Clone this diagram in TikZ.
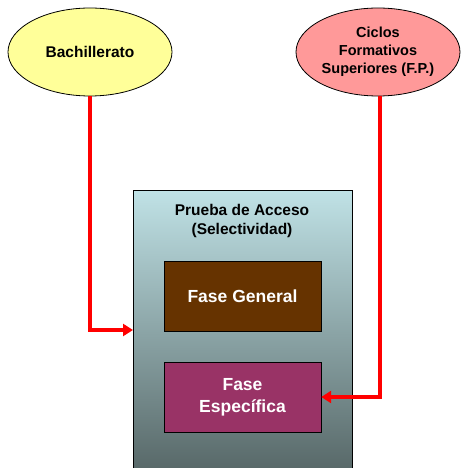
\documentclass[tikz,border=0pt]{standalone}
\usepackage{fontspec}
\setmainfont{Liberation Sans}
\usetikzlibrary{shapes.geometric,arrows.meta}
\definecolor{cajaarriba}{RGB}{192,226,230}
\definecolor{cajaabajo}{RGB}{84,100,100}
\begin{document}
\begin{tikzpicture}[
    x=1pt,y=-1pt,
    origen/.style={ellipse,draw,thick,minimum width=164pt,minimum height=88pt,
      inner sep=0pt,align=center,font=\bfseries\fontsize{15.5}{18.5}\selectfont},
    fase/.style={draw,minimum width=157pt,minimum height=70pt,align=center,
      text=white,font=\bfseries\fontsize{17.5}{22}\selectfont},
    flecha/.style={red,line width=3.5pt,-{Triangle[length=10pt,width=12pt]}}
]
\useasboundingbox (0,0) rectangle (461,468);
\clip (0,0) rectangle (461,468);

% prueba de acceso
\shade[top color=cajaarriba,bottom color=cajaabajo,draw,thick]
  (133,190) rectangle (352,480);
\node[font=\bfseries\fontsize{15.5}{19}\selectfont,align=center] (prueba) at (242,221)
  {Prueba de Acceso\\(Selectividad)};

% fases
\node[fase,fill={rgb,255:red,102;green,51;blue,0}] (general) at (242.5,296) {Fase General};
\node[fase,fill={rgb,255:red,153;green,51;blue,102}] (especifica) at (242.5,397) {Fase\\Específica};

% origenes
\node[origen,fill={rgb,255:red,255;green,255;blue,153}] (bach) at (90,52) {Bachillerato};
\node[origen,fill={rgb,255:red,255;green,153;blue,153},
  font=\bfseries\fontsize{14.5}{18}\selectfont] (ciclos) at (378,52)
  {Ciclos\\Formativos\\Superiores (F.P.)};

% flechas
\coordinate (entrada) at (133,330);
\draw[flecha] ([xshift=2pt]ciclos.south) |- (especifica.east);
\draw[flecha] (bach.south) |- (entrada);
\end{tikzpicture}
\end{document}
